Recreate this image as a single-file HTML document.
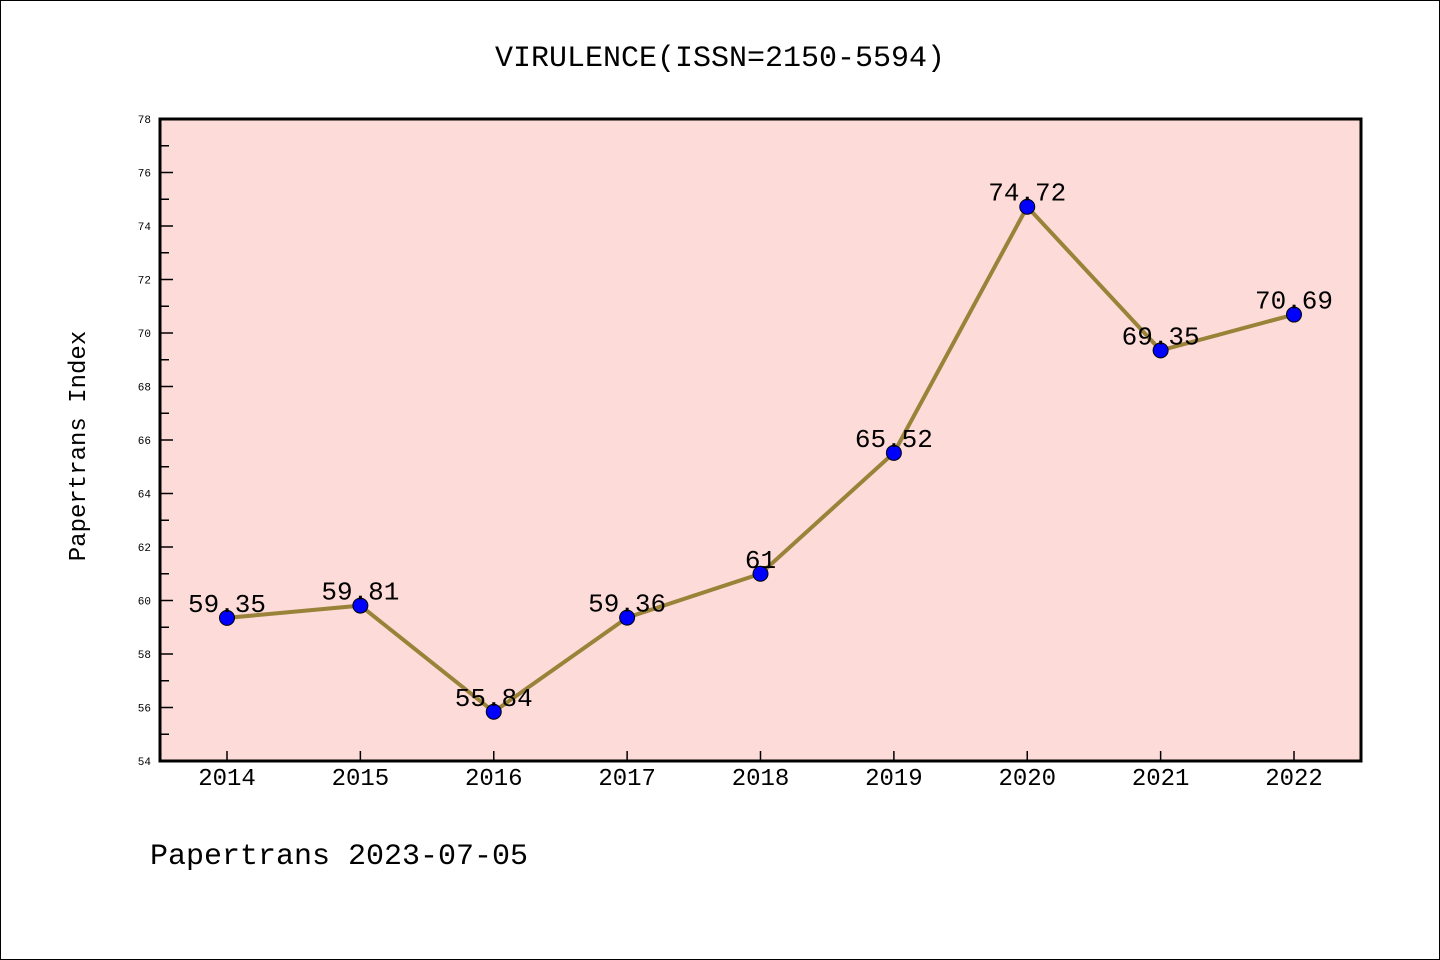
<!DOCTYPE html>
<html><head><meta charset="utf-8"><style>
body{margin:0;background:#fff}
svg{display:block;font-family:"Liberation Mono","DejaVu Sans Mono",monospace}
</style></head><body>
<svg id="c" width="1440" height="960" xmlns="http://www.w3.org/2000/svg">
<rect x="0.5" y="0.5" width="1439" height="959" fill="#fff" stroke="#000"/>
<text x="720" y="66" font-size="30" text-anchor="middle">VIRULENCE(ISSN=2150-5594)</text>
<rect x="160" y="119" width="1201" height="642" fill="#fddbd8"/>
<g id="axes"></g>
<g id="marks"></g>
<rect x="160" y="119" width="1201" height="642" fill="none" stroke="#000" stroke-width="3"/>
<text x="85" y="446" font-size="24" text-anchor="middle" transform="rotate(-90 85 446)">Papertrans Index</text>
<text x="150" y="864" font-size="30">Papertrans 2023-07-05</text>
</svg>
<script>
const years=["2014","2015","2016","2017","2018","2019","2020","2021","2022"];
const values=[59.35,59.81,55.84,59.36,61,65.52,74.72,69.35,70.69];
const labels=["59.35","59.81","55.84","59.36","61","65.52","74.72","69.35","70.69"];
const yTicks=[54,56,58,60,62,64,66,68,70,72,74,76,78];
{
const NS="http://www.w3.org/2000/svg";
const yMin=54,yMax=78,plotTop=119,plotBot=761;
const xs=i=>227+i*(1294-227)/(years.length-1);
const ys=v=>plotBot-(v-yMin)/(yMax-yMin)*(plotBot-plotTop);
function mk(t,a,p){const e=document.createElementNS(NS,t);for(const k in a)e.setAttribute(k,a[k]);p.appendChild(e);return e;}
const ax=document.getElementById('axes'),mg=document.getElementById('marks');
yTicks.forEach(v=>{
 const y=ys(v);
 const t=mk('line',{x1:160,x2:173,y1:y,y2:y,stroke:'#000','stroke-width':1.5},ax);
 
 
 const l=mk('text',{x:151,y:y+4,'font-size':11,'text-anchor':'end'},ax);l.textContent=v;
 
 
 if(v<yMax){const ym=ys(v+1);
  const m=mk('line',{x1:160,x2:169,y1:ym,y2:ym,stroke:'#000','stroke-width':1.5},ax);
  
  }
});
years.forEach((yr,i)=>{
 const x=xs(i);
 const t=mk('line',{x1:x,x2:x,y1:plotBot,y2:plotBot-10,stroke:'#000','stroke-width':1.5},ax);
 
 
 const l=mk('text',{x:x,y:785,'font-size':24,'text-anchor':'middle'},ax);l.textContent=yr;
 
 
});
const line=mk('polyline',{points:values.map((v,i)=>xs(i)+','+ys(v)).join(' '),fill:'none',stroke:'#9a8238','stroke-width':4},mg);


values.forEach((v,i)=>{
 const c=mk('circle',{cx:xs(i),cy:ys(v),r:7.5,fill:'#0000ff',stroke:'#000','stroke-width':1},mg);
 
 
 const l=mk('text',{x:xs(i),y:ys(v)-6,'font-size':26,'text-anchor':'middle'},mg);l.textContent=labels[i];
 
 
});
}
</script>
</body></html>
